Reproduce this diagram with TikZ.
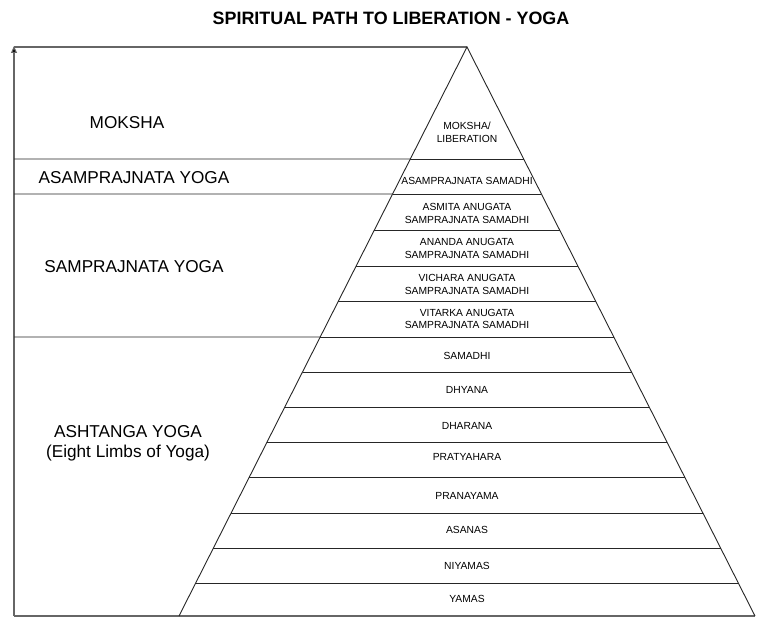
\documentclass[tikz,border=0pt]{standalone}
\usepackage{fontspec}
\setmainfont{Liberation Sans}
\usetikzlibrary{arrows.meta,calc}
\tikzset{
  band/.style={font=\fontsize{10.3}{12.8}\selectfont, align=center, inner sep=0pt},
  side/.style={font=\fontsize{17.2}{20}\selectfont, align=center, inner sep=0pt},
  ttl/.style={font=\fontsize{17.9}{21}\selectfont\bfseries, inner sep=0pt},
  pline/.style={draw=black!85, line width=0.9pt},
  frame/.style={draw=black!60, line width=1.1pt}
}
\begin{document}
\begin{tikzpicture}[x=1pt,y=-1pt]
\useasboundingbox (0,0) rectangle (768,620);
\coordinate (A) at (467,47);
\coordinate (BL) at (179,616);
\coordinate (BR) at (755,616);
\coordinate (O) at (14,616);
\coordinate (T) at (14,46);
% frame
\draw[frame, -{Triangle[length=7pt,width=6pt,fill=black]}] (O) -- (T);
\draw[frame] (14,47) -- (A);
\draw[frame] (O) -- (BR);
% pyramid
\draw[pline] (BL) -- (A) -- (BR);
\foreach \y in {159,194,230,266,301,337,372,407,442,477,513,548,583}{
  \pgfmathsetmacro\t{(\y-47)/569}
  \draw[pline] ($(A)!\t!(BL)$) -- ($(A)!\t!(BR)$);
}
\foreach \y in {159,194,337}{
  \pgfmathsetmacro\t{(\y-47)/569}
  \draw[pline] (14,\y) -- ($(A)!\t!(BL)$);
}
% title
\node[ttl] (title) at (391,18) {SPIRITUAL PATH TO LIBERATION - YOGA};
% pyramid labels
\node[band] (moksha) at (467,132.5) {MOKSHA/\\LIBERATION};
\node[band] (asam) at (467,181) {ASAMPRAJNATA SAMADHI};
\node[band] (asmita) at (467,213.5) {ASMITA ANUGATA\\SAMPRAJNATA SAMADHI};
\node[band] (ananda) at (467,248.5) {ANANDA ANUGATA\\SAMPRAJNATA SAMADHI};
\node[band] (vichara) at (467,284.5) {VICHARA ANUGATA\\SAMPRAJNATA SAMADHI};
\node[band] (vitarka) at (467,319) {VITARKA ANUGATA\\SAMPRAJNATA SAMADHI};
\node[band] (samadhi) at (467,356) {SAMADHI};
\node[band] (dhyana) at (467,390) {DHYANA};
\node[band] (dharana) at (467,426) {DHARANA};
\node[band] (pratya) at (467,457) {PRATYAHARA};
\node[band] (prana) at (467,496) {PRANAYAMA};
\node[band] (asanas) at (467,530) {ASANAS};
\node[band] (niyamas) at (467,566) {NIYAMAS};
\node[band] (yamas) at (467,599) {YAMAS};
% side labels
\node[side] (lmoksha) at (127,123) {MOKSHA};
\node[side] (lasam) at (134,178) {ASAMPRAJNATA YOGA};
\node[side] (lsam) at (134,267) {SAMPRAJNATA YOGA};
\node[side] (lasht) at (128,443) {ASHTANGA YOGA\\(Eight Limbs of Yoga)};
\end{tikzpicture}
\end{document}
